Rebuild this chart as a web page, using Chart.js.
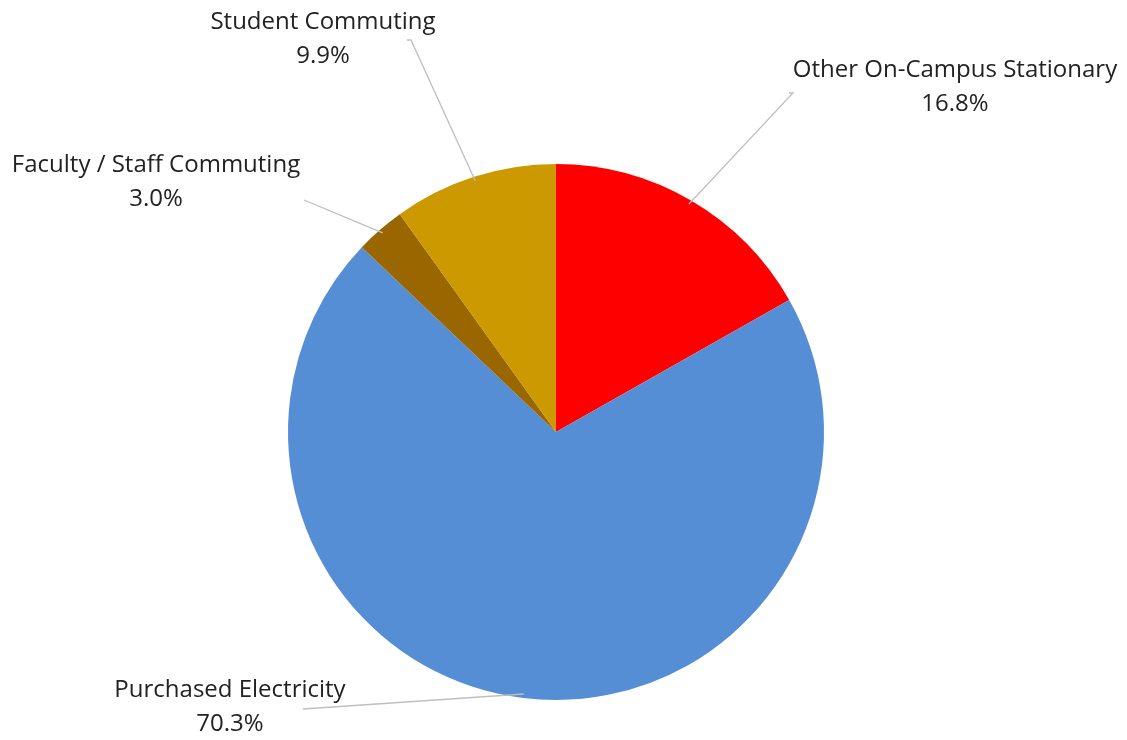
<!DOCTYPE html>
<html>
<head>
<meta charset="utf-8">
<script src="https://cdn.jsdelivr.net/npm/chart.js@4"></script>
<style>
  body { margin: 0; background: #fff; }
</style>
</head>
<body>
<canvas id="miGrafico" width="1127" height="740"></canvas>
<script>
// datos del grafico
var categorias = ['Other On-Campus Stationary', 'Purchased Electricity', 'Faculty / Staff Commuting', 'Student Commuting'];
var porcentajes = [16.8, 70.3, 3.0, 9.9];
var colores = ['#FF0000', '#558ED5', '#996600', '#CC9900'];

// donde van las etiquetas (centro del texto y arranque de la linea guia)
var posEtiquetas = [
  { x: 955, y: 70, lx: 793, ly: 93, tick: -4 },
  { x: 230, y: 690, lx: 303, ly: 709, tick: 0 },
  { x: 156, y: 165, lx: 304, ly: 200, tick: 0 },
  { x: 323, y: 22, lx: 411, ly: 40, tick: -4 }
];

var etiquetas = {
  id: 'etiquetas',
  afterDraw: function (chart) {
    var ctx = chart.ctx;
    var arcos = chart.getDatasetMeta(0).data;
    ctx.save();
    for (var i = 0; i < arcos.length; i++) {
      var a = arcos[i];
      var medio = (a.startAngle + a.endAngle) / 2;
      var r = a.outerRadius * 0.985;
      var ex = a.x + Math.cos(medio) * r;
      var ey = a.y + Math.sin(medio) * r;
      var p = posEtiquetas[i];
      ctx.strokeStyle = '#BFBFBF';
      ctx.lineWidth = 1.3;
      ctx.beginPath();
      ctx.moveTo(p.lx + p.tick, p.ly);
      ctx.lineTo(p.lx, p.ly);
      ctx.lineTo(ex, ey);
      ctx.stroke();

      ctx.fillStyle = '#222222';
      ctx.font = '24px "Open Sans"';
      ctx.textAlign = 'center';
      ctx.textBaseline = 'middle';
      ctx.fillText(categorias[i], p.x, p.y);
      ctx.fillText(porcentajes[i].toFixed(1) + '%', p.x, p.y + 34);
    }
    ctx.restore();
  }
};

var ctx = document.getElementById('miGrafico').getContext('2d');
var chart = new Chart(ctx, {
  type: 'pie',
  data: {
    labels: categorias,
    datasets: [{
      data: porcentajes,
      backgroundColor: colores,
      borderWidth: 0
    }]
  },
  options: {
    responsive: false,
    animation: false,
    devicePixelRatio: 1,
    layout: { padding: { left: 288, right: 303, top: 164, bottom: 40 } },
    plugins: {
      legend: { display: false },
      tooltip: { enabled: false }
    }
  },
  plugins: [etiquetas]
});
</script>
</body>
</html>
